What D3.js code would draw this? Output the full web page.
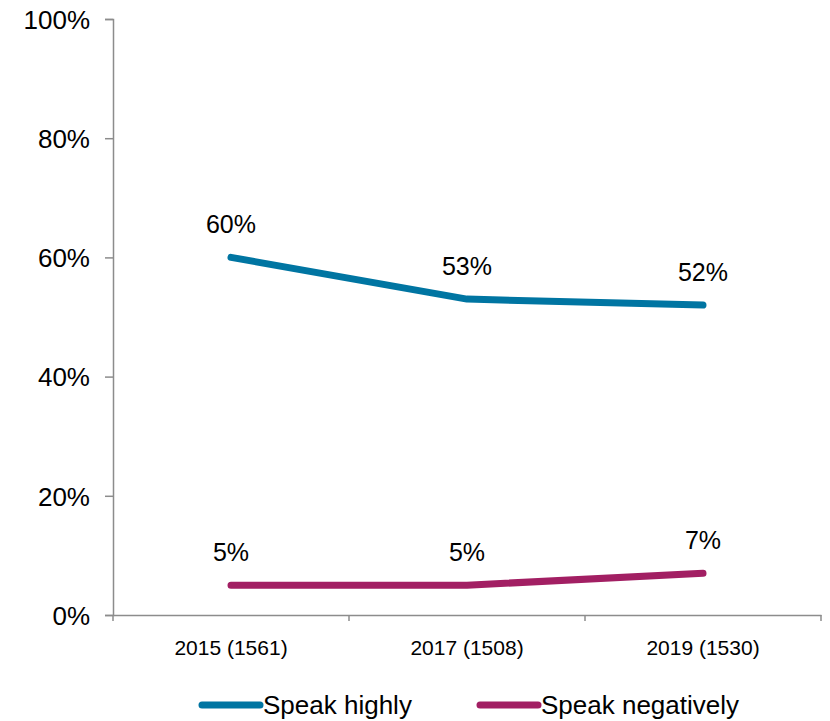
<!DOCTYPE html>
<html><head><meta charset="utf-8">
<script src="https://cdn.jsdelivr.net/npm/d3@7"></script>
<style>body{margin:0;background:#fff}svg{display:block;font-family:"Liberation Sans",Arial,sans-serif}</style>
</head><body>
<svg id="c" width="830" height="721"></svg>
<script>
const categories = ["2015 (1561)", "2017 (1508)", "2019 (1530)"];
const speakHighly = [60, 53, 52];
const speakNegatively = [5, 5, 7];
const seriesNames = ["Speak highly", "Speak negatively"];
const seriesColors = ["#0075A2", "#A21F63"];
const yTicks = [0, 20, 40, 60, 80, 100];

const svg = d3.select("#c");
const x = d3.scaleBand().domain(categories).range([113, 821]);
const y = d3.scaleLinear().domain([0, 100]).range([615, 19]);
const axisColor = "#8c8c8c";

// y axis
const gy = svg.append("g").attr("transform", "translate(113,0)")
  .call(d3.axisLeft(y).tickValues(yTicks).tickFormat(d => d + "%").tickSize(8).tickPadding(15));
gy.select(".domain").attr("stroke", axisColor).attr("stroke-width", 1.5);
gy.selectAll(".tick line").attr("stroke", axisColor).attr("stroke-width", 1.5);
gy.selectAll(".tick text").attr("font-size", 26).attr("fill", "#000").attr("font-family", "Liberation Sans, Arial, sans-serif").attr("dy", "0.36em");

// x axis
const gx = svg.append("g").attr("transform", "translate(0,615)")
  .call(d3.axisBottom(x).tickSize(0).tickPadding(25));
gx.select(".domain").attr("stroke", axisColor).attr("stroke-width", 1.5);
gx.selectAll(".tick text").attr("font-size", 21).attr("fill", "#000").attr("font-family", "Liberation Sans, Arial, sans-serif");
// boundary ticks
const bounds = categories.map(c => x(c)).concat([x.range()[1]]);
gx.selectAll(".btick").data(bounds).enter().append("line")
  .attr("x1", d => d).attr("x2", d => d).attr("y1", 0).attr("y2", 6)
  .attr("stroke", axisColor).attr("stroke-width", 1.5);

const cx = c => x(c) + x.bandwidth() / 2;
const line = d3.line().x((d, i) => cx(categories[i])).y(d => y(d));
const allSeries = [speakHighly, speakNegatively];

allSeries.forEach((s, k) => {
  svg.append("path").datum(s).attr("d", line)
    .attr("fill", "none").attr("stroke", seriesColors[k]).attr("stroke-width", 7)
    .attr("stroke-linecap", "round").attr("stroke-linejoin", "round");
  svg.selectAll(".lbl" + k).data(s).enter().append("text")
    .attr("x", (d, i) => cx(categories[i])).attr("y", d => y(d) - 24)
    .attr("text-anchor", "middle").attr("font-size", 25).attr("fill", "#000")
    .text(d => d + "%");
});

// legend
const legendX = [202, 480];
seriesNames.forEach((n, k) => {
  svg.append("line").attr("x1", legendX[k]).attr("x2", legendX[k] + 58)
    .attr("y1", 705).attr("y2", 705).attr("stroke", seriesColors[k])
    .attr("stroke-width", 7).attr("stroke-linecap", "round");
  svg.append("text").attr("x", legendX[k] + 61).attr("y", 714)
    .attr("font-size", 26).attr("fill", "#000").text(n);
});
</script>
</body></html>
